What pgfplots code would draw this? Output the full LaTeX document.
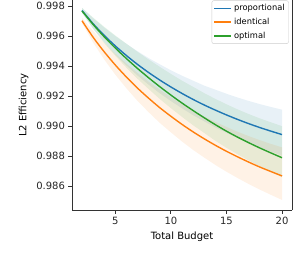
\documentclass[border=0pt]{standalone}
\usepackage{fontspec}
\setmainfont{DejaVu Sans}
\usepackage{pgfplots}
\usepackage{pgfplotstable}
\pgfplotsset{compat=1.18}
\usepgfplotslibrary{fillbetween}
\definecolor{tabblue}{HTML}{1F77B4}
\definecolor{taborange}{HTML}{FF7F0E}
\definecolor{tabgreen}{HTML}{2CA02C}
\definecolor{spine}{HTML}{333333}

\pgfplotstableread{
x  b       bu      bl      o       ou      ol      g       gu      gl
2  0.99770 0.99787 0.99756 0.99702 0.99721 0.99686 0.99767 0.99788 0.99754
3  0.99682 0.99719 0.99651 0.99592 0.99634 0.99557 0.99677 0.99723 0.99648
4  0.99604 0.99657 0.99559 0.99495 0.99556 0.99444 0.99595 0.99662 0.99553
5  0.99534 0.99600 0.99478 0.99407 0.99483 0.99343 0.99520 0.99604 0.99468
6  0.99470 0.99548 0.99404 0.99327 0.99416 0.99252 0.99450 0.99549 0.99389
7  0.99411 0.99499 0.99337 0.99253 0.99354 0.99168 0.99384 0.99495 0.99315
8  0.99357 0.99453 0.99276 0.99186 0.99296 0.99093 0.99322 0.99444 0.99247
9  0.99307 0.99412 0.99219 0.99123 0.99243 0.99022 0.99263 0.99395 0.99181
10 0.99261 0.99372 0.99167 0.99066 0.99193 0.98959 0.99207 0.99348 0.99120
11 0.99218 0.99336 0.99119 0.99012 0.99147 0.98898 0.99154 0.99303 0.99062
12 0.99178 0.99303 0.99073 0.98962 0.99105 0.98842 0.99104 0.99262 0.99006
13 0.99141 0.99270 0.99032 0.98916 0.99064 0.98791 0.99056 0.99220 0.98955
14 0.99107 0.99243 0.98992 0.98873 0.99029 0.98742 0.99010 0.99182 0.98903
15 0.99075 0.99216 0.98956 0.98833 0.98995 0.98697 0.98967 0.99146 0.98856
16 0.99045 0.99191 0.98922 0.98796 0.98963 0.98655 0.98927 0.99112 0.98813
17 0.99017 0.99168 0.98890 0.98761 0.98934 0.98615 0.98890 0.99081 0.98772
18 0.98991 0.99147 0.98859 0.98728 0.98907 0.98578 0.98855 0.99052 0.98733
19 0.98967 0.99128 0.98831 0.98698 0.98882 0.98543 0.98822 0.99026 0.98696
20 0.98944 0.99110 0.98804 0.98669 0.98859 0.98509 0.98790 0.99000 0.98660
}\data

\begin{document}
\begin{tikzpicture}
\begin{axis}[
  name=ax,
  scale only axis,
  width=220pt, height=210pt,
  xmin=1.1, xmax=20.9,
  ymin=0.98442, ymax=0.9984,
  axis x line*=bottom,
  xtick pos=bottom, ytick pos=left,
  xtick={5,10,15,20},
  ytick={0.986,0.988,0.990,0.992,0.994,0.996,0.998},
  tick align=outside,
  major tick length=3.5pt,
  every tick/.style={spine, line width=0.8pt},
  axis line style={spine, line width=0.8pt},
  /pgf/number format/assume math mode=true,
  yticklabel style={/pgf/number format/fixed, /pgf/number format/precision=3, /pgf/number format/fixed zerofill, font=\fontsize{10}{12}\selectfont, text=black!85},
  xticklabel style={font=\fontsize{10}{12}\selectfont, text=black!85},
  xlabel={Total Budget},
  ylabel={L2 Efficiency},
  xlabel style={font=\fontsize{10}{12}\selectfont, at={(axis description cs:0.5,0)}, anchor=center, yshift=-27pt},
  ylabel style={font=\fontsize{10}{12}\selectfont, at={(axis description cs:-0.22,0.5)}, anchor=center},
  legend style={at={(axis description cs:0.985,0.998)}, anchor=north east, draw=black!20, rounded corners=2pt, fill=white, font=\fontsize{8.3}{10}\selectfont, inner sep=1.8pt, row sep=2pt},
  legend cell align=left,
]
\addplot[name path=bu, draw=none, forget plot] table[x=x,y=bu]{\data};
\addplot[name path=bl, draw=none, forget plot] table[x=x,y=bl]{\data};
\addplot[tabblue, fill opacity=0.1, draw=none, forget plot] fill between[of=bu and bl];
\addplot[name path=ou, draw=none, forget plot] table[x=x,y=ou]{\data};
\addplot[name path=ol, draw=none, forget plot] table[x=x,y=ol]{\data};
\addplot[taborange, fill opacity=0.1, draw=none, forget plot] fill between[of=ou and ol];
\addplot[name path=gu, draw=none, forget plot] table[x=x,y=gu]{\data};
\addplot[name path=gl, draw=none, forget plot] table[x=x,y=gl]{\data};
\addplot[tabgreen, fill opacity=0.1, draw=none, forget plot] fill between[of=gu and gl];
\addplot[tabblue, line width=1.4pt, smooth, mark=none] table[x=x,y=b]{\data};
\addlegendentry{proportional}
\addplot[taborange, line width=1.4pt, smooth, mark=none] table[x=x,y=o]{\data};
\addlegendentry{identical}
\addplot[tabgreen, line width=1.4pt, smooth, mark=none] table[x=x,y=g]{\data};
\addlegendentry{optimal}
\end{axis}
\pgfresetboundingbox
\path[use as bounding box] ([xshift=-72pt,yshift=-44pt]ax.south west) rectangle ([xshift=7pt]ax.north east);
\end{tikzpicture}
\end{document}
